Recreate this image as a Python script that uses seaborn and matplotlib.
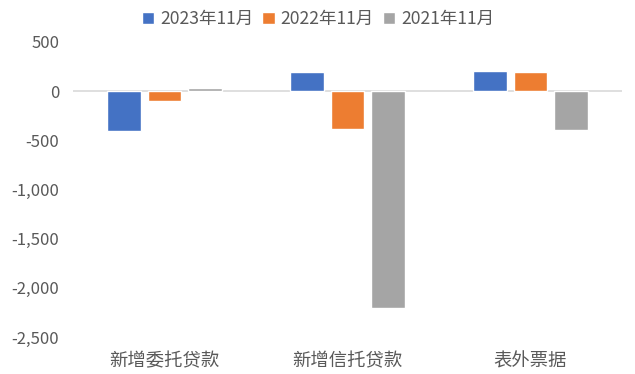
import matplotlib
matplotlib.use("Agg")
import matplotlib.pyplot as plt
import seaborn as sns
import pandas as pd
from matplotlib.ticker import FuncFormatter

categories = ["新增委托贷款", "新增信托贷款", "表外票据"]
series_names = ["2023年11月", "2022年11月", "2021年11月"]
v2023 = [-400, 200, 205]
v2022 = [-95, -380, 190]
v2021 = [30, -2210, -395]
colors = ["#4472C4", "#ED7D31", "#A5A5A5"]
yticks = [500, 0, -500, -1000, -1500, -2000, -2500]

rows = []
for name, vals in zip(series_names, [v2023, v2022, v2021]):
    for c, v in zip(categories, vals):
        rows.append({"category": c, "series": name, "value": v})
df = pd.DataFrame(rows)

sns.set_theme(style="white")
plt.rcParams["font.family"] = ["Noto Sans CJK SC", "DejaVu Sans"]

fig = plt.figure(figsize=(6.35, 3.74), dpi=100)
ax = fig.add_axes([73/635, 1-337/374, (622-73)/635, (337-42)/374])

sns.barplot(data=df, x="category", y="value", hue="series", order=categories,
            hue_order=series_names, palette=colors, width=0.664, gap=0.185,
            ax=ax, errorbar=None, saturation=1, legend=True)

ax.set_ylim(-2500, 500)
ax.set_xlim(-0.5, 2.5)
ax.set_yticks(yticks)
ax.yaxis.set_major_formatter(FuncFormatter(lambda v, p: f"{int(v):,}"))
ax.axhline(0, color="#D9D9D9", lw=1.2, zorder=0)
for s in ax.spines.values():
    s.set_visible(False)
ax.tick_params(axis="both", length=0, colors="#595959")
ax.tick_params(axis="y", labelsize=12, pad=10)
ax.tick_params(axis="x", labelsize=13.2, pad=11)
ax.set_xlabel("")
ax.set_ylabel("")

handles, labels = ax.get_legend_handles_labels()
ax.legend_.remove()
fig.legend(handles, labels, loc="center", bbox_to_anchor=(318/635, 1-19/374),
           ncol=3, frameon=False, fontsize=12.6, handlelength=0.7, handleheight=0.7,
           handletextpad=0.35, columnspacing=0.5, labelcolor="#595959")

fig.savefig("out.png", dpi=100)
